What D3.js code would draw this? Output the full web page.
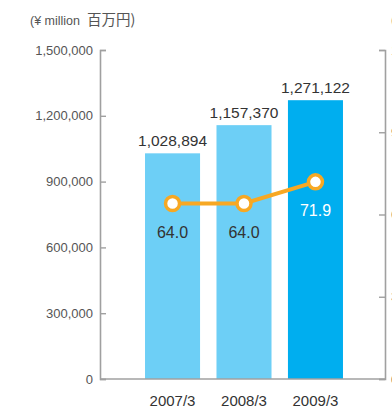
<!DOCTYPE html>
<html><head><meta charset="utf-8">
<script src="https://cdn.jsdelivr.net/npm/d3@7"></script>
<style>body{margin:0;background:#fff}svg{display:block}</style>
</head><body><svg id="c" width="392" height="409"></svg>
<script>
const categories = ["2007/3", "2008/3", "2009/3"];
const revenue = [1028894, 1157370, 1271122];
const ratio = [64.0, 64.0, 71.9];
const leftTicks = [0, 300000, 600000, 900000, 1200000, 1500000];
const rightTicks = [0, 30, 60, 90, 120];
const unitLabelEn = "(¥ million";
const unitLabelJa = "百万円)";
const rightUnit = "(%)";

const svg = d3.select("#c");
const font = "'Liberation Sans', Arial, sans-serif";
const plotTop = 50, plotBottom = 379, plotLeft = 100, plotRight = 385;

const x = d3.scaleBand().domain(categories).range([plotLeft, 388]).paddingInner(0.23).paddingOuter(0.63);
const yL = d3.scaleLinear().domain([0, 1500000]).range([plotBottom, plotTop]);
const yR = d3.scaleLinear().domain([0, 120]).range([plotBottom, plotTop]);

// bars
svg.selectAll("rect.bar").data(revenue).join("rect")
  .attr("x", (d, i) => x(categories[i]))
  .attr("y", d => yL(d))
  .attr("width", x.bandwidth())
  .attr("height", d => yL(0) - yL(d))
  .attr("fill", (d, i) => i === 2 ? "#00aeef" : "#6dcff6");

// axes
const gL = svg.append("g").attr("transform", `translate(${plotLeft},0)`)
  .call(d3.axisRight(yL).tickValues(leftTicks).tickSize(6).tickFormat(""));
const gR = svg.append("g").attr("transform", `translate(${plotRight},0)`)
  .call(d3.axisLeft(yR).tickValues(rightTicks).tickSize(6).tickFormat(""));
[gL, gR].forEach(g => {
  g.select(".domain").attr("stroke", "#a0a0a0").attr("stroke-width", 1.6);
  g.selectAll(".tick line").attr("stroke", "#a0a0a0").attr("stroke-width", 1.4);
});
svg.append("line").attr("x1", plotLeft).attr("x2", plotRight).attr("y1", plotBottom).attr("y2", plotBottom)
  .attr("stroke", "#a0a0a0").attr("stroke-width", 1.6);

// left tick labels
svg.append("g").selectAll("text").data(leftTicks).join("text")
  .attr("x", 93).attr("y", d => yL(d)).attr("dy", "0.35em")
  .attr("text-anchor", "end").attr("font-family", font).attr("font-size", 13)
  .attr("fill", "#555").text(d => d3.format(",")(d));
// right tick labels (clipped by the frame edge, as in the reference)
svg.append("g").selectAll("text").data(rightTicks).join("text")
  .attr("x", 391).attr("y", d => yR(d)).attr("dy", "0.35em")
  .attr("text-anchor", "start").attr("font-family", font).attr("font-size", 13)
  .attr("fill", "#555").text(d => d);
svg.append("text").attr("x", 391).attr("y", 24).attr("font-family", font).attr("font-size", 13)
  .attr("fill", "#555").text(rightUnit);

// unit title
const ut = svg.append("text").attr("x", 30).attr("y", 25).attr("font-family", font)
  .attr("fill", "#555");
ut.append("tspan").attr("font-size", 12.5).text(unitLabelEn);
ut.append("tspan").attr("dx", 7).attr("font-size", 14.5)
  .attr("font-family", "'Noto Sans CJK JP', sans-serif").text(unitLabelJa);

// x labels
svg.append("g").selectAll("text").data(categories).join("text")
  .attr("x", d => x(d) + x.bandwidth() / 2).attr("y", 410).attr("dy", "-0.25em")
  .attr("text-anchor", "middle").attr("font-family", font).attr("font-size", 15)
  .attr("fill", "#333").text(d => d);

// value labels
svg.append("g").selectAll("text").data(revenue).join("text")
  .attr("x", (d, i) => x(categories[i]) + x.bandwidth() / 2).attr("y", d => yL(d) - 7)
  .attr("text-anchor", "middle").attr("font-family", font).attr("font-size", 15.5)
  .attr("fill", "#333").text(d => d3.format(",")(d));

// line
const cx = (i) => x(categories[i]) + x.bandwidth() / 2;
svg.append("path").datum(ratio)
  .attr("d", d3.line().x((d, i) => cx(i)).y(d => yR(d)))
  .attr("fill", "none").attr("stroke", "#f7a823").attr("stroke-width", 4);
svg.append("g").selectAll("circle").data(ratio).join("circle")
  .attr("cx", (d, i) => cx(i)).attr("cy", d => yR(d)).attr("r", 7)
  .attr("fill", "#fff").attr("stroke", "#f7a823").attr("stroke-width", 3.5);
svg.append("g").selectAll("text").data(ratio).join("text")
  .attr("x", (d, i) => cx(i)).attr("y", d => yR(d) + 34)
  .attr("text-anchor", "middle").attr("font-family", font).attr("font-size", 16)
  .attr("fill", (d, i) => i === 2 ? "#fff" : "#333").text(d => d.toFixed(1));
</script></body></html>
